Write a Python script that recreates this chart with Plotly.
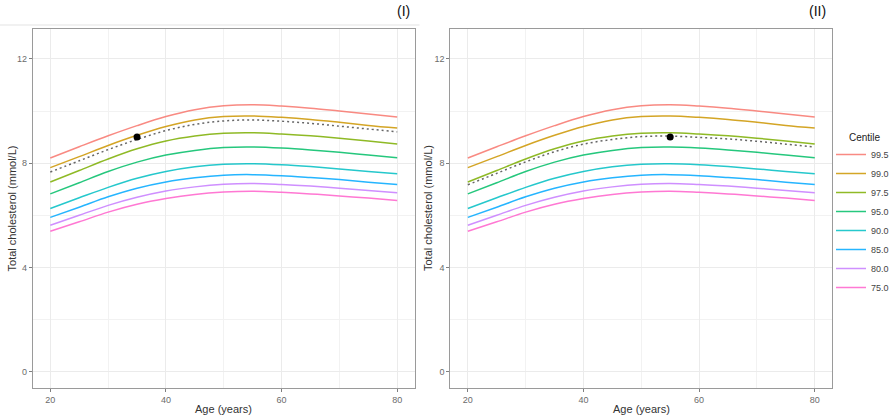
import plotly.graph_objects as go

ages = [20, 25, 30, 35, 40, 45, 50, 55, 60, 65, 70, 75, 80]
centile_labels = ["99.5", "99.0", "97.5", "95.0", "90.0", "85.0", "80.0", "75.0"]
c995 = [8.20, 8.63, 9.05, 9.44, 9.79, 10.05, 10.20, 10.24, 10.19, 10.11, 10.00, 9.89, 9.77]
c990 = [7.83, 8.25, 8.68, 9.07, 9.41, 9.66, 9.79, 9.81, 9.76, 9.68, 9.57, 9.45, 9.35]
c975 = [7.28, 7.72, 8.16, 8.55, 8.85, 9.04, 9.15, 9.17, 9.12, 9.05, 8.96, 8.85, 8.74]
c950 = [6.82, 7.25, 7.68, 8.04, 8.31, 8.49, 8.60, 8.62, 8.58, 8.51, 8.42, 8.31, 8.21]
c900 = [6.26, 6.67, 7.07, 7.42, 7.68, 7.86, 7.96, 7.98, 7.94, 7.87, 7.78, 7.68, 7.59]
c850 = [5.92, 6.31, 6.71, 7.04, 7.28, 7.44, 7.54, 7.56, 7.52, 7.45, 7.37, 7.27, 7.18]
c800 = [5.62, 6.00, 6.38, 6.69, 6.93, 7.09, 7.19, 7.22, 7.18, 7.12, 7.04, 6.95, 6.86]
c750 = [5.39, 5.75, 6.12, 6.42, 6.64, 6.80, 6.89, 6.92, 6.88, 6.82, 6.74, 6.66, 6.57]
patient_curve_I = [7.66, 8.09, 8.52, 8.91, 9.25, 9.49, 9.62, 9.66, 9.61, 9.53, 9.42, 9.31, 9.20]
patient_curve_II = [7.17, 7.61, 8.05, 8.44, 8.73, 8.91, 9.02, 9.04, 8.99, 8.93, 8.84, 8.73, 8.62]
patient_I = (35, 9.0)
patient_II = (55, 9.0)
panel_titles = ["(I)", "(II)"]
x_ticks = [20, 40, 60, 80]
y_ticks = [0, 4, 8, 12]

centiles = [c995, c990, c975, c950, c900, c850, c800, c750]
colors = ["#F8766D", "#CD9600", "#7CAE00", "#00BE67", "#00BFC4", "#00A9FF", "#C77CFF", "#FF61CC"]

FONT = "Liberation Sans, Arial, sans-serif"
fig = go.Figure()

panels = [("x", "y", patient_curve_I, patient_I), ("x2", "y2", patient_curve_II, patient_II)]
for pi, (xa, ya, pcurve, pt) in enumerate(panels):
    for lab, vals, col in zip(centile_labels, centiles, colors):
        fig.add_trace(go.Scatter(
            x=ages, y=vals, mode="lines", name=lab, legendgroup=lab,
            showlegend=(pi == 0), line=dict(color=col, width=1.5, shape="spline", smoothing=1.0),
            opacity=0.85, xaxis=xa, yaxis=ya, hoverinfo="skip"))
    fig.add_trace(go.Scatter(
        x=ages, y=pcurve, mode="lines", showlegend=False,
        line=dict(color="#666666", width=1.5, dash="2px,3px", shape="spline", smoothing=1.0),
        xaxis=xa, yaxis=ya))
    fig.add_trace(go.Scatter(
        x=[pt[0]], y=[pt[1]], mode="markers", showlegend=False,
        marker=dict(color="black", size=7), xaxis=xa, yaxis=ya))

W, H = 894, 419
top_px, bot_px = 29, 388
ydom = [1 - bot_px / H, 1 - top_px / H]
xdoms = [[33 / W, 415 / W], [451 / W, 833 / W]]

axis_common = dict(
    showline=True, mirror=True, linecolor="#9a9a9a", linewidth=1.3,
    showgrid=True, gridcolor="#ebebeb", gridwidth=1,
    zeroline=False, ticks="outside", ticklen=3, tickcolor="#7f7f7f",
    tickfont=dict(family=FONT, size=9, color="#6b6b6b"),
)

minor_x = dict(tickvals=[30, 50, 70], showgrid=True, gridcolor="#f2f2f2", ticks="")
minor_y = dict(tickvals=[2, 6, 10], showgrid=True, gridcolor="#f2f2f2", ticks="")

layout = dict(
    width=W, height=H, margin=dict(l=0, r=0, t=0, b=0),
    paper_bgcolor="white", plot_bgcolor="white",
    font=dict(family=FONT),
    xaxis=dict(domain=xdoms[0], range=[17, 83], tickvals=x_ticks, anchor="y", minor=minor_x, **axis_common),
    yaxis=dict(domain=ydom, range=[-0.63, 13.15], tickvals=y_ticks, anchor="x", minor=minor_y, **axis_common),
    xaxis2=dict(domain=xdoms[1], range=[17, 83], tickvals=x_ticks, anchor="y2", minor=minor_x, **axis_common),
    yaxis2=dict(domain=ydom, range=[-0.63, 13.15], tickvals=y_ticks, anchor="x2", minor=minor_y, **axis_common),
    legend=dict(
        font=dict(family=FONT, size=9, color="#444"),
        x=832 / W, xanchor="left", y=1 - 140 / H, yanchor="top",
        bgcolor="rgba(0,0,0,0)", tracegroupgap=0, itemwidth=30,
    ),
)
fig.update_layout(**layout)

annotations = []
for i, xd in enumerate(xdoms):
    cx = (xd[0] + xd[1]) / 2
    annotations.append(dict(text="Age (years)", x=cx, y=1 - 409 / H, xref="paper", yref="paper",
                            showarrow=False, font=dict(family=FONT, size=11, color="#333"),
                            xanchor="center", yanchor="middle"))
    ytx = [12, 428][i]
    annotations.append(dict(text="Total cholesterol (mmol/L)", x=ytx / W, y=(ydom[0] + ydom[1]) / 2,
                            xref="paper", yref="paper", showarrow=False, textangle=-90,
                            font=dict(family=FONT, size=11, color="#333"),
                            xanchor="center", yanchor="middle"))
    tx = [404, 818][i]
    annotations.append(dict(text=panel_titles[i], x=tx / W, y=1 - 11 / H, xref="paper", yref="paper",
                            showarrow=False, font=dict(family=FONT, size=14, color="#111"),
                            xanchor="center", yanchor="middle"))
annotations.append(dict(text="Centile", x=848 / W, y=1 - 137 / H, xref="paper", yref="paper",
                        showarrow=False, font=dict(family=FONT, size=10, color="#222"),
                        xanchor="left", yanchor="middle"))
fig.update_layout(annotations=annotations)

fig.add_shape(type="line", xref="paper", yref="paper", x0=0, x1=420 / W,
              y0=1 - 25 / H, y1=1 - 25 / H, line=dict(color="#e3e3e3", width=1))

fig.write_html("out.html", config={"displayModeBar": False},
               post_script="document.body.style.margin='0px';document.body.style.overflow='hidden';")
